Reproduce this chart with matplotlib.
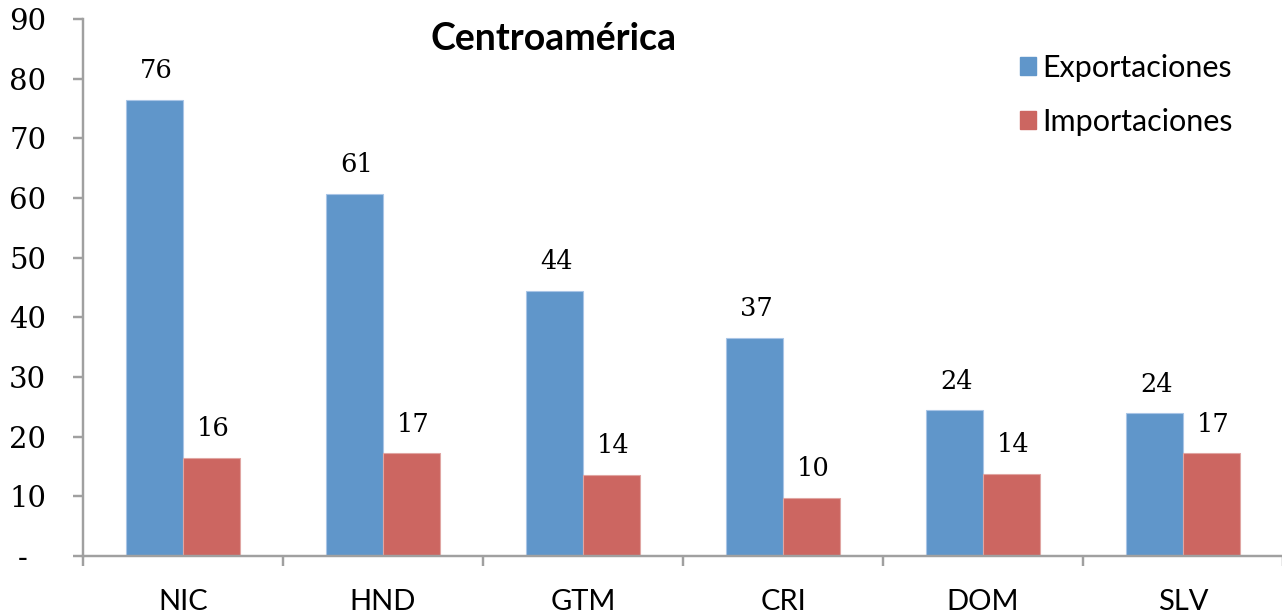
import matplotlib
matplotlib.use("Agg")
import matplotlib.pyplot as plt
from matplotlib.patches import Patch
import numpy as np

categories = ["NIC", "HND", "GTM", "CRI", "DOM", "SLV"]
exportaciones = [76.4, 60.7, 44.4, 36.6, 24.4, 23.9]
importaciones = [16.4, 17.2, 13.6, 9.7, 13.8, 17.2]
yticks = [0, 10, 20, 30, 40, 50, 60, 70, 80, 90]
ytick_labels = ["-  ", "10", "20", "30", "40", "50", "60", "70", "80", "90"]
title = "Centroamérica"
series_names = ["Exportaciones", "Importaciones"]

BLUE = "#6096CA"
RED = "#CC6661"
GREY = "#A0A0A0"
SANS = "Lato"
SERIF = "DejaVu Serif"

W, H, DPI = 1282, 616, 100
fig = plt.figure(figsize=(W / DPI, H / DPI), dpi=DPI)
ax = fig.add_axes([83 / W, (H - 556) / H, 1200 / W, (556 - 19) / H])

x = np.arange(len(categories))
bw = 0.285
b1 = ax.bar(x - bw / 2, exportaciones, bw, color=BLUE, edgecolor="#A9C5E6", linewidth=0.8)
b2 = ax.bar(x + bw / 2, importaciones, bw, color=RED, edgecolor="#E0A5A2", linewidth=0.8)

for bars, vals in ((b1, exportaciones), (b2, importaciones)):
    for rect, v in zip(bars, vals):
        ax.annotate(f"{v:.0f}", (rect.get_x() + rect.get_width() / 2, v),
                    xytext=(1.5, 12), textcoords="offset points",
                    ha="center", va="bottom", fontsize=18.5, family=SERIF)

ax.set_xlim(-0.5, len(categories) - 0.5)
ax.set_ylim(0, 90)

ax.set_yticks(yticks)
ax.set_yticklabels(ytick_labels, family=SERIF, fontsize=21)
ax.tick_params(axis="y", direction="out", length=7.5, width=1.75, color=GREY, pad=19)

ax.set_xticks(x)
ax.set_xticklabels(categories, family=SANS, fontsize=21)
ax.set_xticks(np.arange(len(categories) + 1) - 0.5, minor=True)
ax.tick_params(axis="x", which="major", length=0, pad=24)
ax.tick_params(axis="x", which="minor", direction="out", length=7, width=1.75, color=GREY)

for s in ("top", "right"):
    ax.spines[s].set_visible(False)
for s in ("left", "bottom"):
    ax.spines[s].set_color(GREY)
    ax.spines[s].set_linewidth(1.75)

fig.text(554 / W, 1 - 50 / H, title, ha="center", va="baseline",
         family=SANS, fontweight="bold", fontsize=27)

handles = [Patch(facecolor=BLUE, edgecolor=BLUE), Patch(facecolor=RED, edgecolor=RED)]
fig.legend(handles, series_names, loc="upper left", bbox_to_anchor=(1020 / W, 1 - 54 / H),
           frameon=False, prop={"family": SANS, "size": 22},
           handlelength=0.52, handleheight=0.52, handletextpad=0.2, labelspacing=0.85,
           borderpad=0, borderaxespad=0)

fig.savefig("out.png", dpi=DPI)
